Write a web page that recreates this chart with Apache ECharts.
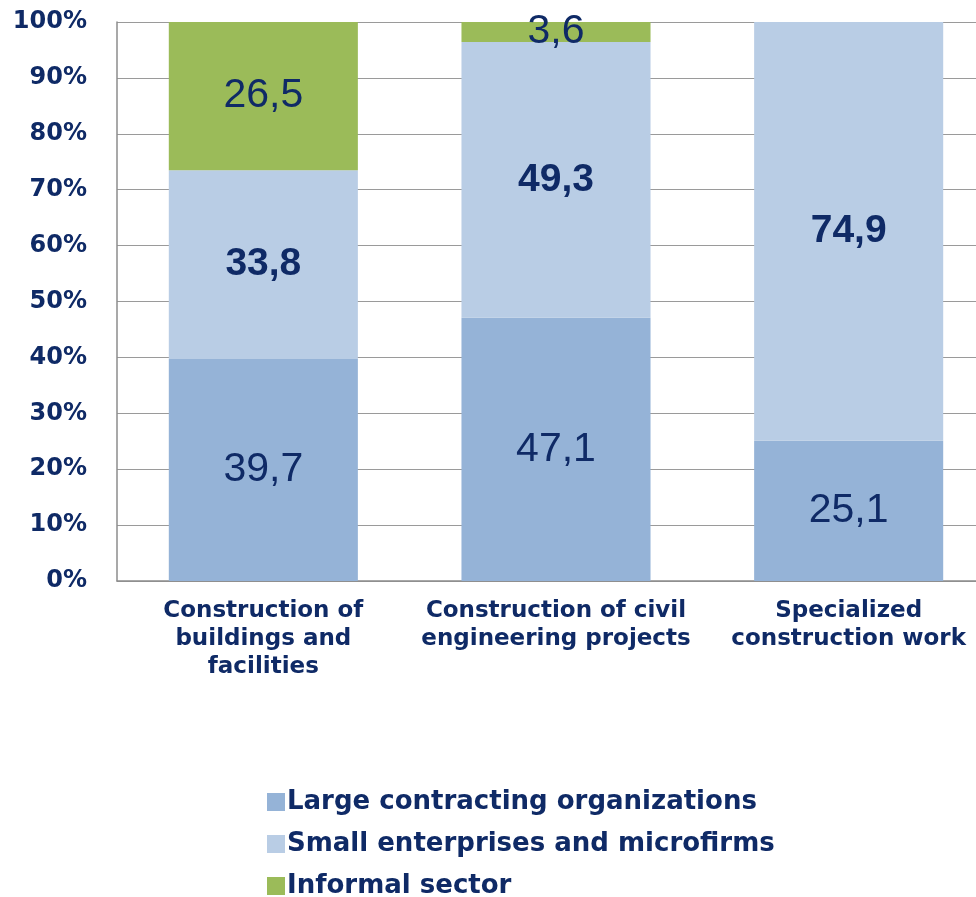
<!DOCTYPE html>
<html>
<head>
<meta charset="utf-8">
<script src="https://cdn.jsdelivr.net/npm/echarts@6/dist/echarts.min.js"></script>
<style>
html,body{margin:0;padding:0;background:#fff;overflow:hidden;}
#main{width:995px;height:897px;}
</style>
</head>
<body>
<div id="main"></div>
<script>
// categories and shares (%)
var categories = ['Construction of\nbuildings and\nfacilities', 'Construction of civil\nengineering projects', 'Specialized\nconstruction work'];
var largeOrgs = [39.7, 47.1, 25.1];
var smallFirms = [33.8, 49.3, 74.9];
var informal = [26.5, 3.6, 0];
var seriesNames = ['Large contracting organizations', 'Small enterprises and microfirms', 'Informal sector'];
var yTicks = [0, 100, 10];

var navy = '#0f2a66';
var fmt = function (p) {
	if (!p.value) return '';
	return String(p.value).replace('.', ',');
};

function bar(name, data, color, bold)
{
	return {
		name: name,
		type: 'bar',
		stack: 'all',
		barWidth: '64.6%',
		data: data,
		itemStyle: { color: color },
		label: {
			show: true,
			position: 'inside',
			formatter: fmt,
			color: navy,
			fontFamily: 'Liberation Sans, Arial, sans-serif',
			fontSize: bold ? 39 : 41,
			fontWeight: bold ? 'bold' : 'normal'
		}
	};
}

// chart box is a bit wider than the window: the plot runs off the right edge
var option = {
	animation: false,
	grid: { left: 117, right: 0, top: 22, bottom: 316, containLabel: false },
	legend: {
		orient: 'vertical',
		left: 262,
		top: 784,
		height: 200,
		itemWidth: 18,
		itemHeight: 18,
		itemGap: 16,
		icon: 'rect',
		data: seriesNames,
		textStyle: {
			color: navy,
			fontSize: 26,
			fontWeight: 'bold',
			fontFamily: 'DejaVu Sans, sans-serif',
			padding: [0, 0, 0, -3]
		}
	},
	xAxis: {
		type: 'category',
		data: categories,
		axisLine: { lineStyle: { color: '#8c8c8c', width: 1.5 } },
		axisTick: { show: false },
		axisLabel: {
			margin: 16,
			color: navy,
			fontSize: 23,
			lineHeight: 28,
			fontWeight: 'bold',
			fontFamily: 'DejaVu Sans, sans-serif',
			interval: 0
		}
	},
	yAxis: {
		type: 'value',
		min: yTicks[0],
		max: yTicks[1],
		interval: yTicks[2],
		axisLine: { show: true, lineStyle: { color: '#8c8c8c', width: 1.5 } },
		axisTick: { show: false },
		splitLine: { lineStyle: { color: '#9a9a9a', width: 1.2 } },
		axisLabel: {
			formatter: '{value}%',
			margin: 30,
			color: navy,
			fontSize: 24,
			fontWeight: 'bold',
			fontFamily: 'DejaVu Sans, sans-serif'
		}
	},
	series: [
		bar(seriesNames[0], largeOrgs, '#95b3d7', false),
		bar(seriesNames[1], smallFirms, '#b9cde5', true),
		bar(seriesNames[2], informal, '#9bbb59', false)
	]
};

echarts.init(document.getElementById('main')).setOption(option);
</script>
</body>
</html>
